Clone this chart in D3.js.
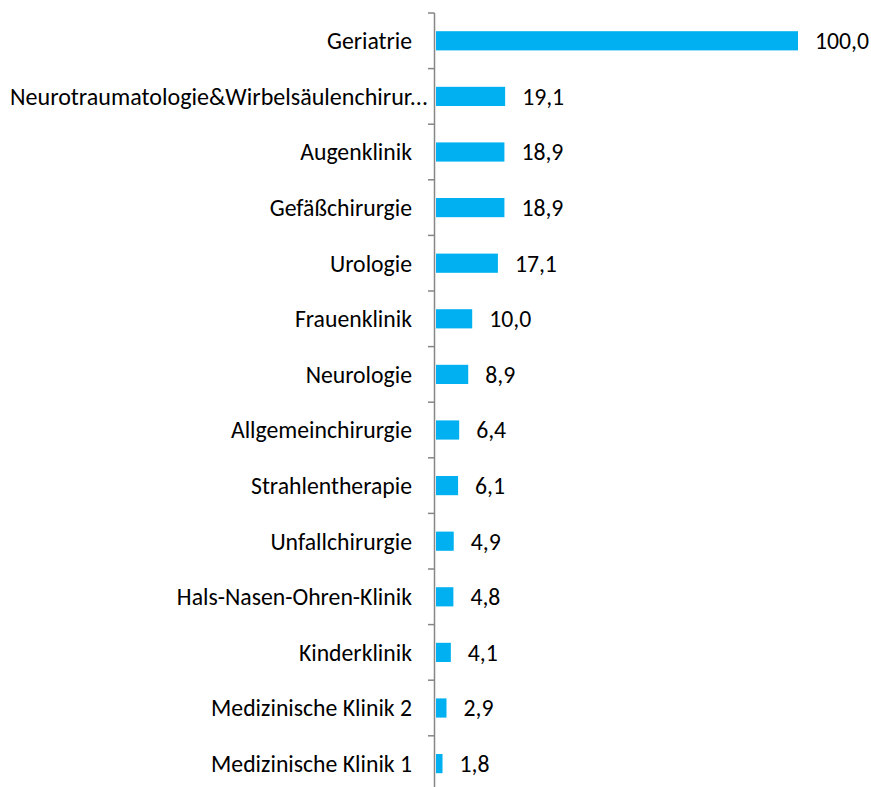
<!DOCTYPE html>
<html>
<head>
<meta charset="utf-8">
<script src="https://cdn.jsdelivr.net/npm/d3@7"></script>
<style>
  body { margin: 0; background: #fff; }
  svg { display: block; }
  text { font-family: Carlito, "Open Sans", sans-serif; fill: #000; }
</style>
</head>
<body>
<svg width="871" height="787"></svg>
<script>
// data
var categories = ["Geriatrie", "Neurotraumatologie&Wirbelsäulenchirur...", "Augenklinik", "Gefäßchirurgie",
  "Urologie", "Frauenklinik", "Neurologie", "Allgemeinchirurgie", "Strahlentherapie", "Unfallchirurgie",
  "Hals-Nasen-Ohren-Klinik", "Kinderklinik", "Medizinische Klinik 2", "Medizinische Klinik 1"];
var values = [100.0, 19.1, 18.9, 18.9, 17.1, 10.0, 8.9, 6.4, 6.1, 4.9, 4.8, 4.1, 2.9, 1.8];

var svg = d3.select("svg");

// pick a font size so the labels are as wide as in the original (Calibri-like)
var probe = svg.append("text").attr("font-size", "20px").text("Medizinische Klinik 1");
var fontSize = 20 * 201 / probe.node().getComputedTextLength();
probe.remove();

var x = d3.scaleLinear().domain([0, 100]).range([436, 798]);
var y = d3.scaleBand().domain(categories).range([13, 13 + 14 * 55.6]).paddingInner(0.655).paddingOuter(0.3275);

// bars
svg.append("g").selectAll("rect")
  .data(values)
  .enter().append("rect")
  .attr("x", x(0))
  .attr("y", function(d, i) { return y(categories[i]); })
  .attr("width", function(d) { return x(d) - x(0); })
  .attr("height", y.bandwidth())
  .attr("fill", "#00B0F0");

// value labels
svg.append("g").selectAll("text")
  .data(values)
  .enter().append("text")
  .attr("x", function(d) { return x(d) + 17; })
  .attr("y", function(d, i) { return y(categories[i]) + y.bandwidth() / 2; })
  .attr("dy", "0.35em")
  .attr("font-size", fontSize + "px")
  .text(function(d) { return d.toFixed(1).replace(".", ","); });

// axis line with ticks at category boundaries
var axis = svg.append("g").attr("stroke", "#868686").attr("stroke-width", 1.5);
axis.append("line")
  .attr("x1", 434.5).attr("x2", 434.5)
  .attr("y1", 13).attr("y2", 13 + 14 * 55.6);
axis.selectAll(".tick")
  .data(d3.range(15))
  .enter().append("line")
  .attr("x1", 428).attr("x2", 434.5)
  .attr("y1", function(i) { return 13 + i * 55.6; })
  .attr("y2", function(i) { return 13 + i * 55.6; });

// category labels
svg.append("g").selectAll("text")
  .data(categories)
  .enter().append("text")
  .attr("x", function(d, i) { return i == 1 ? 428 : 412; })
  .attr("y", function(d) { return y(d) + y.bandwidth() / 2; })
  .attr("dy", "0.35em")
  .attr("text-anchor", "end")
  .attr("font-size", fontSize + "px")
  .each(function(d, i) {
    if (i == 1) d3.select(this).attr("textLength", 418).attr("lengthAdjust", "spacingAndGlyphs");
  })
  .text(function(d) { return d; });
</script>
</body>
</html>
